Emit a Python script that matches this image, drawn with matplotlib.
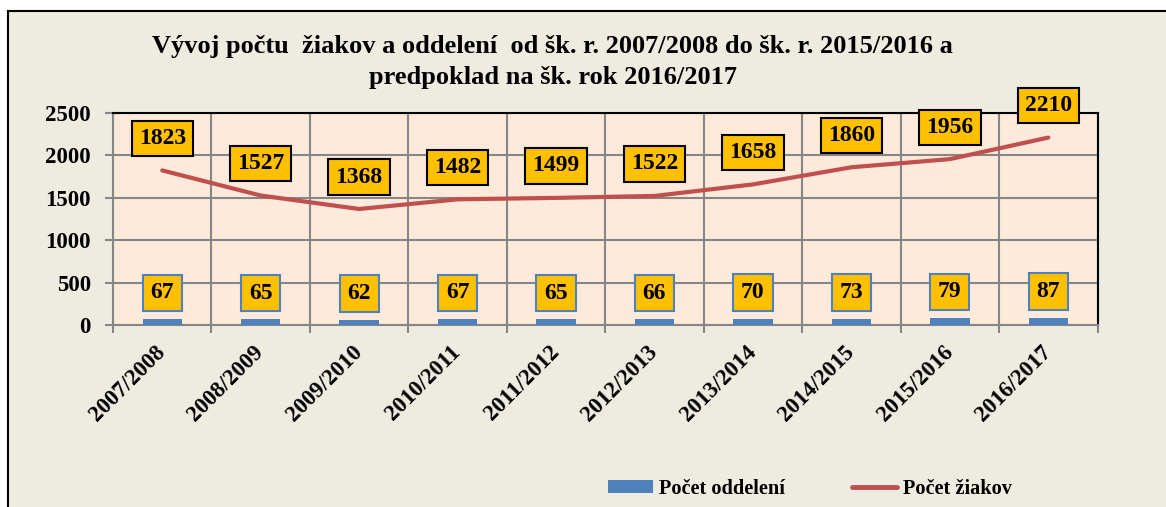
import matplotlib
matplotlib.use("Agg")
import matplotlib.pyplot as plt
from matplotlib.patches import Rectangle, Patch
from matplotlib.lines import Line2D
import numpy as np

years = ["2007/2008", "2008/2009", "2009/2010", "2010/2011", "2011/2012",
         "2012/2013", "2013/2014", "2014/2015", "2015/2016", "2016/2017"]
oddelenia = [67, 65, 62, 67, 65, 66, 70, 73, 79, 87]
ziaci = [1823, 1527, 1368, 1482, 1499, 1522, 1658, 1860, 1956, 2210]
yticks = [0, 500, 1000, 1500, 2000, 2500]
title = "Vývoj počtu  žiakov a oddelení  od šk. r. 2007/2008 do šk. r. 2015/2016 a\npredpoklad na šk. rok 2016/2017"

FONT = "Liberation Serif"
plt.rcParams["font.family"] = [FONT, "DejaVu Serif"]
plt.rcParams["font.weight"] = "bold"

W, H = 1166, 507
fig = plt.figure(figsize=(W / 100, H / 100), dpi=100, facecolor="white")

# outer chart area with border
fig.patches.append(Rectangle((8 / W, -0.1), 1.2, 1.1 - 11 / H, transform=fig.transFigure,
                             facecolor="#EEECE1", edgecolor="black", linewidth=1.5, zorder=-10))

ax = fig.add_axes([113 / W, 1 - 325 / H, (1097.5 - 113) / W, (325 - 113) / H])
ax.set_facecolor("#FDEADA")

x = np.arange(len(years))
ax.bar(x, oddelenia, width=0.4, color="#4F81BD", zorder=3)
ax.plot(x, ziaci, color="#C0504D", lw=3, solid_capstyle="round", zorder=4)

ax.set_xlim(-0.5, len(years) - 0.5)
ax.set_ylim(0, 2500)
ax.set_yticks(yticks)
ax.set_yticklabels([str(v) for v in yticks], fontsize=16.5, fontweight="bold")
ax.set_xticks(x)
ax.set_xticklabels(years, rotation=45, ha="right", va="center", rotation_mode="anchor",
                   fontsize=16.5, fontweight="bold")
ax.set_xticks(np.arange(-0.5, len(years)), minor=True)
ax.tick_params(axis="x", which="major", length=0, pad=17)
ax.tick_params(axis="x", which="minor", length=6, width=1.5, color="#868686")
ax.tick_params(axis="y", length=6, width=1.5, color="#868686", pad=10)

ax.grid(axis="y", color="#868686", lw=1.5, zorder=1)
ax.grid(axis="x", which="minor", color="#868686", lw=1.5, zorder=1)
ax.set_axisbelow(True)
for s in ["top", "right"]:
    ax.spines[s].set_color("black")
    ax.spines[s].set_linewidth(1.5)
for s in ["left", "bottom"]:
    ax.spines[s].set_color("#868686")
    ax.spines[s].set_linewidth(1.5)

for xi, v in zip(x, oddelenia):
    ax.annotate(str(v), (xi, v), xytext=(0, 19), textcoords="offset points",
                ha="center", va="center", fontsize=17, fontweight="bold", zorder=6,
                bbox=dict(boxstyle="square,pad=0.33", fc="#FFC000", ec="#4F81BD", lw=1.5))
for xi, v in zip(x, ziaci):
    ax.annotate(str(v), (xi, v), xytext=(0, 23), textcoords="offset points",
                ha="center", va="center", fontsize=17, fontweight="bold", zorder=6,
                annotation_clip=False,
                bbox=dict(boxstyle="square,pad=0.3", fc="#FFC000", ec="black", lw=1.5))

fig.text(0.474, 1 - 62 / H, title, ha="center", va="center", fontsize=19,
         fontweight="bold", linespacing=1.4)

handles = [Patch(facecolor="#4F81BD", edgecolor="none"),
           Line2D([0], [0], color="#C0504D", lw=3.5, solid_capstyle="round")]
fig.legend(handles, ["Počet oddelení", "Počet žiakov"], loc="center",
           bbox_to_anchor=(810 / W, 1 - 489 / H), ncol=2, frameon=False,
           prop={"family": FONT, "weight": "bold", "size": 14.6},
           handlelength=2.2, handleheight=0.6, handletextpad=0.3, columnspacing=3.3)

fig.savefig("out.png", dpi=100, facecolor=fig.get_facecolor())
